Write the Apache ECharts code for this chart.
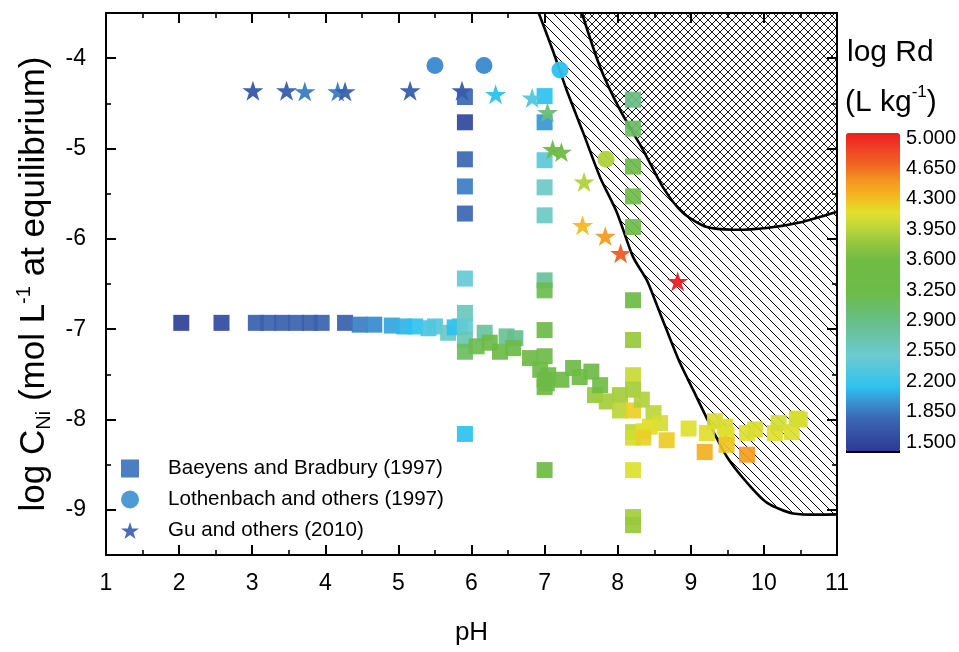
<!DOCTYPE html>
<html>
<head>
<meta charset="utf-8">
<script src="https://cdn.jsdelivr.net/npm/echarts@6/dist/echarts.min.js"></script>
<style>
html,body{margin:0;padding:0;background:#fff;}
#chart{width:959px;height:652px;}
</style>
</head>
<body>
<div id="chart"></div>
<script>
// ---------------- DATA ----------------
// [pH, log C_Ni, log Rd]
const baeyensData = [
  [2.03,-6.93,1.55],[2.58,-6.93,1.62],[3.05,-6.93,1.80],[3.22,-6.93,1.82],[3.41,-6.93,1.80],
  [3.60,-6.93,1.82],[3.79,-6.93,1.80],[3.95,-6.93,1.82],[4.27,-6.93,1.80],[4.47,-6.95,1.95],
  [4.67,-6.95,2.00],[4.91,-6.96,2.10],[5.08,-6.97,2.15],[5.23,-6.97,2.20],[5.41,-6.99,2.35],
  [5.50,-6.97,2.40],[5.68,-7.04,2.60],[5.77,-6.98,2.20],[5.84,-6.97,2.25],
  [5.91,-4.43,1.85],[5.91,-4.71,1.60],[5.91,-5.12,1.85],[5.91,-5.42,1.95],[5.91,-5.72,1.85],
  [5.91,-6.44,2.50],[5.91,-6.82,2.65],[5.91,-6.97,2.50],[5.91,-7.12,2.70],[5.91,-7.25,3.10],
  [5.91,-8.16,2.20],
  [7.00,-4.42,2.20],[7.00,-4.71,2.05],[7.00,-5.13,2.45],[7.00,-5.43,2.60],[7.00,-5.74,2.60],
  [7.00,-6.46,2.85],[7.00,-6.57,3.20],[7.00,-7.01,3.30],[7.00,-7.30,3.30],[7.00,-7.56,3.30],
  [7.00,-7.64,3.30],[7.00,-8.56,3.30],
  [6.18,-7.04,2.80],[6.07,-7.19,3.20],[6.25,-7.15,3.25],[6.39,-7.25,3.30],[6.48,-7.08,2.85],
  [6.60,-7.10,2.90],[6.57,-7.21,3.30],[6.80,-7.32,3.30],[6.94,-7.45,3.35],[7.03,-7.60,3.35],
  [7.05,-7.51,3.30],[7.23,-7.56,3.45],[7.39,-7.43,3.40],[7.48,-7.53,3.45],[7.64,-7.47,3.40],
  [7.69,-7.73,3.80],[7.76,-7.62,3.60],[7.85,-7.80,3.85],[8.03,-7.73,3.85],[8.03,-7.90,3.95],
  [8.21,-4.46,2.95],[8.21,-4.78,3.10],[8.21,-5.20,3.30],[8.21,-5.53,3.35],[8.21,-5.87,3.35],
  [8.21,-6.68,3.40],[8.21,-7.12,3.80],[8.21,-7.51,4.00],[8.21,-7.67,3.85],[8.21,-7.90,4.20],
  [8.21,-8.14,3.95],[8.21,-8.20,4.05],[8.21,-8.56,4.10],[8.21,-9.08,3.85],[8.21,-9.17,3.80],
  [8.33,-7.78,3.90],[8.49,-7.93,3.95],[8.58,-8.04,4.05],[8.44,-8.08,4.10],[8.35,-8.13,4.12],
  [8.35,-8.20,4.20],[8.67,-8.23,4.22],[8.97,-8.10,4.10],[9.22,-8.15,4.12],[9.33,-8.02,4.08],
  [9.19,-8.36,4.35],[9.47,-8.08,4.08],[9.49,-8.17,4.12],[9.49,-8.28,4.25],[9.77,-8.15,4.10],
  [9.77,-8.39,4.45],[9.88,-8.11,4.08],[10.15,-8.15,4.12],[10.20,-8.04,4.05],[10.38,-8.14,4.10],
  [10.45,-7.99,4.05],[10.49,-8.00,4.07]
];
const lothenbachData = [
  [5.50,-4.08,2.00],[6.17,-4.08,2.00],[7.21,-4.13,2.20],[7.84,-5.12,3.90]
];
const guData = [
  [3.01,-4.36,1.72],[3.47,-4.36,1.78],[3.72,-4.37,1.95],[4.17,-4.37,1.95],[4.27,-4.37,1.80],
  [5.16,-4.36,1.78],[5.87,-4.36,1.78],[6.33,-4.40,2.20],[6.83,-4.44,2.40],[7.04,-4.60,3.00],
  [7.11,-5.01,3.30],[7.23,-5.04,3.30],[7.54,-5.37,3.90],[7.52,-5.85,4.30],[7.83,-5.97,4.45],
  [8.04,-6.16,4.70],[8.82,-6.47,5.00]
];
// boundary of the single-hatched region (pH, log C)
const hatchBoundary = [
  [6.92,-3.50],[7.11,-3.91],[7.30,-4.35],[7.53,-4.83],[7.76,-5.32],[7.99,-5.71],[8.21,-6.20],
  [8.40,-6.46],[8.51,-6.68],[8.67,-7.01],[8.85,-7.37],[9.03,-7.67],[9.30,-8.12],[9.50,-8.42],
  [9.77,-8.70],[10.04,-8.92],[10.40,-9.04],[11.00,-9.05]
];
// boundary of the cross-hatched region (pH, log C)
const crossBoundary = [
  [7.51,-3.50],[7.76,-4.10],[8.03,-4.57],[8.35,-5.02],[8.62,-5.43],[8.89,-5.71],[9.22,-5.87],
  [9.58,-5.90],[10.04,-5.88],[10.49,-5.82],[11.00,-5.70]
];
const yMajorTicks = [-9,-8,-7,-6,-5,-4];
const yMinorTicks = [-8.5,-7.5,-6.5,-5.5,-4.5];
const colorbarTicks = [1.5,1.85,2.2,2.55,2.9,3.25,3.6,3.95,4.3,4.65,5.0];
const rdColors = ['#2c3a93','#3450a4','#3a66b2','#3a8fd0','#2dc1ef','#4ec6e0','#6ccbcf','#6ac5ae',
  '#67bf8c','#6abd68','#6dbb47','#6ebb45','#70bc44','#92c63e','#bcd63a','#e2e02d','#f3b91f',
  '#f4961f','#f16522','#ef4323','#ed1c24'];

// ---------------- CHART ----------------
const FONT = "'Liberation Sans', Arial, sans-serif";
const STAR = 'path://M50,0L61.23,34.55L97.55,34.55L68.17,55.9L79.39,90.45L50,69.1L20.61,90.45L31.83,55.9L2.45,34.55L38.77,34.55Z';

function makeHatch(size, cross, bg, lw) {
  const c = document.createElement('canvas');
  c.width = size; c.height = size;
  const ctx = c.getContext('2d');
  if (bg) { ctx.fillStyle = bg; ctx.fillRect(0, 0, size, size); }
  ctx.strokeStyle = '#000';
  ctx.lineWidth = lw;
  ctx.beginPath();
  ctx.moveTo(-1, -1); ctx.lineTo(size + 1, size + 1);
  ctx.moveTo(size - 1, -1); ctx.lineTo(size + 1, 1);
  ctx.moveTo(-1, size - 1); ctx.lineTo(1, size + 1);
  if (cross) {
    ctx.moveTo(-1, size + 1); ctx.lineTo(size + 1, -1);
    ctx.moveTo(-1, 1); ctx.lineTo(1, -1);
    ctx.moveTo(size - 1, size + 1); ctx.lineTo(size + 1, size - 1);
  }
  ctx.stroke();
  return c;
}
const singlePattern = { image: makeHatch(10, false, null, 1.0), repeat: 'repeat' };
const crossPattern = { image: makeHatch(8, true, '#ffffff', 0.9), repeat: 'repeat' };

function regionSeries(curve, pattern, z) {
  return {
    type: 'custom', silent: true, z: z, xAxisIndex: 0, yAxisIndex: 0,
    data: curve, encode: { x: 0, y: 1 },
    renderItem: function (params, api) {
      if (params.dataIndex !== 0) return null;
      const pts = curve.map(p => api.coord(p));
      const poly = pts.concat([api.coord([11, -3.5])]);
      return {
        type: 'group', children: [
          { type: 'polygon', shape: { points: poly }, style: { fill: pattern, stroke: null } },
          { type: 'polyline', shape: { points: pts, smooth: 0.25 }, style: { stroke: '#000', lineWidth: 2.6, fill: null } }
        ]
      };
    }
  };
}

const axisCommon = {
  type: 'value', z: 10,
  axisLine: { show: true, onZero: false, lineStyle: { color: '#000', width: 2 } },
  splitLine: { show: false }
};

const chart = echarts.init(document.getElementById('chart'), null, { renderer: 'canvas' });
chart.setOption({
  animation: false,
  backgroundColor: '#fff',
  textStyle: { fontFamily: FONT },
  grid: [
    { left: 106, top: 13, width: 731, height: 542 },
    { left: 846, top: 138, width: 54, height: 304 }
  ],
  xAxis: [
    Object.assign({}, axisCommon, {
      gridIndex: 0, position: 'bottom', min: 1, max: 11, interval: 1,
      axisTick: { show: true, inside: true, length: 10, lineStyle: { color: '#000', width: 2 } },
      minorTick: { show: true, splitNumber: 2, length: 5, lineStyle: { color: '#000', width: 1.6 } },
      axisLabel: { fontSize: 23, color: '#000', margin: 17, fontFamily: FONT },
      name: 'pH', nameLocation: 'middle', nameGap: 65,
      nameTextStyle: { fontSize: 26, color: '#000', fontFamily: FONT }
    }),
    Object.assign({}, axisCommon, {
      gridIndex: 0, position: 'top', min: 1, max: 11, interval: 1,
      axisTick: { show: true, inside: true, length: 10, lineStyle: { color: '#000', width: 2 } },
      minorTick: { show: true, splitNumber: 2, length: 5, lineStyle: { color: '#000', width: 1.6 } },
      axisLabel: { show: false }
    }),
    { gridIndex: 1, type: 'value', show: false, min: 0, max: 1 }
  ],
  yAxis: [
    Object.assign({}, axisCommon, {
      gridIndex: 0, position: 'left', min: -9.5, max: -3.5,
      axisTick: { show: true, inside: true, length: 10, customValues: yMajorTicks, lineStyle: { color: '#000', width: 2 } },
      axisLabel: { fontSize: 23, color: '#000', margin: 20, fontFamily: FONT, customValues: yMajorTicks,
        formatter: v => (Math.abs(v - Math.round(v)) < 1e-6 ? String(Math.round(v)) : '') },
      name: '{a|log C}{b|Ni}{a| (mol L}{c|-1}{a| at equilibrium)}',
      nameLocation: 'middle', nameGap: 52, nameRotate: 90,
      nameTextStyle: {
        color: '#000', fontFamily: FONT, fontSize: 35,
        rich: {
          a: { fontSize: 35, lineHeight: 40, color: '#000', fontFamily: FONT },
          b: { fontSize: 20, lineHeight: 20, verticalAlign: 'bottom', color: '#000', fontFamily: FONT },
          c: { fontSize: 20, lineHeight: 20, verticalAlign: 'top', color: '#000', fontFamily: FONT }
        }
      }
    }),
    Object.assign({}, axisCommon, {
      gridIndex: 0, position: 'left', min: -9.5, max: -3.5, axisLine: { show: false },
      axisTick: { show: true, inside: true, length: 5, customValues: yMinorTicks, lineStyle: { color: '#000', width: 1.6 } },
      axisLabel: { show: false }
    }),
    Object.assign({}, axisCommon, {
      gridIndex: 0, position: 'right', min: -9.5, max: -3.5,
      axisTick: { show: true, inside: true, length: 10, customValues: yMajorTicks, lineStyle: { color: '#000', width: 2 } },
      axisLabel: { show: false }
    }),
    Object.assign({}, axisCommon, {
      gridIndex: 0, position: 'right', min: -9.5, max: -3.5, axisLine: { show: false },
      axisTick: { show: true, inside: true, length: 5, customValues: yMinorTicks, lineStyle: { color: '#000', width: 1.6 } },
      axisLabel: { show: false }
    }),
    {
      gridIndex: 1, type: 'value', position: 'right', min: 1.5, max: 5.0,
      axisLine: { show: false }, axisTick: { show: false }, splitLine: { show: false },
      axisLabel: { fontSize: 20, color: '#000', margin: 7, fontFamily: FONT, customValues: colorbarTicks,
        formatter: v => v.toFixed(3) }
    }
  ],
  visualMap: {
    type: 'continuous', min: 1.5, max: 5.0, dimension: 2, seriesIndex: [2, 3, 4],
    left: 846, top: 133, itemWidth: 54, itemHeight: 318, padding: 0,
    calculable: false, realtime: false, hoverLink: false,
    inRange: { color: rdColors }
  },
  legend: {
    orient: 'vertical', left: 121, top: 458, padding: 0,
    itemWidth: 18, itemHeight: 18, itemGap: 10,
    textStyle: { fontSize: 20.6, color: '#000', fontFamily: FONT, padding: [0, 0, 0, 24] },
    data: [
      { name: 'Baeyens and Bradbury (1997)', icon: 'rect' },
      { name: 'Lothenbach and others (1997)', icon: 'circle' },
      { name: 'Gu and others (2010)', icon: STAR }
    ]
  },
  graphic: [
    { type: 'text', left: 847, top: 38, style: { text: 'log Rd', font: '30px ' + FONT, fill: '#000' } },
    { type: 'text', left: 845, top: 84, style: {
        text: '{a|(L kg}{c|-1}{a|)}', fill: '#000',
        rich: {
          a: { fontSize: 30, lineHeight: 38, fontFamily: FONT, fill: '#000' },
          c: { fontSize: 17, lineHeight: 17, verticalAlign: 'top', fontFamily: FONT, fill: '#000' }
        } } },
    { type: 'rect', shape: { x: 846, y: 450, width: 54, height: 3 }, style: { fill: '#000' } }
  ],
  series: [
    regionSeries(hatchBoundary, singlePattern, 1),
    regionSeries(crossBoundary, crossPattern, 1),
    {
      type: 'scatter', name: 'Baeyens and Bradbury (1997)', data: baeyensData,
      symbol: 'rect', symbolSize: 16, z: 3,
      itemStyle: { color: '#3d74bd', opacity: 0.92 }
    },
    {
      type: 'scatter', name: 'Lothenbach and others (1997)', data: lothenbachData,
      symbol: 'circle', symbolSize: 17, z: 4,
      itemStyle: { color: '#4495d2', opacity: 0.95 }
    },
    {
      type: 'scatter', name: 'Gu and others (2010)', data: guData,
      symbol: STAR, symbolSize: 21, symbolKeepAspect: true, z: 5,
      itemStyle: { color: '#3f63b4', opacity: 0.95 }
    }
  ]
});
</script>
</body>
</html>
